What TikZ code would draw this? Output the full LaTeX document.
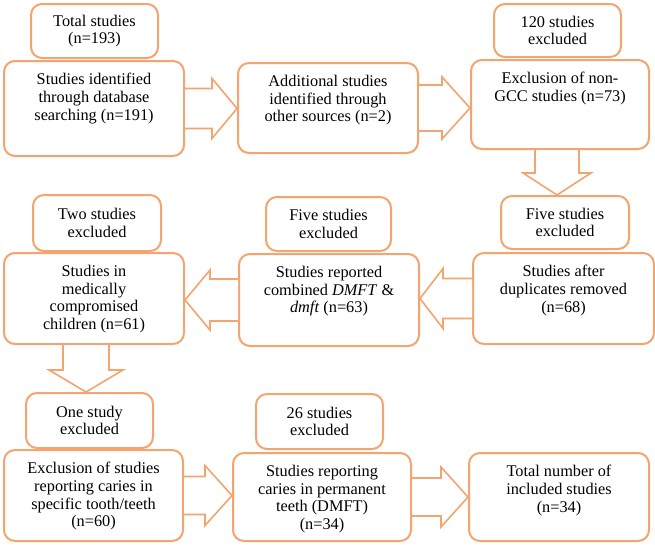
\documentclass[tikz,border=0pt]{standalone}
\usepackage{fontspec}
\setmainfont{Liberation Serif}
\usetikzlibrary{calc}
\definecolor{bord}{RGB}{244,164,110}
\tikzset{
  box/.style={draw=bord, line width=2pt, rounded corners=11pt, fill=white},
  blk/.style={draw=bord, line width=1.6pt, fill=white, line join=miter},
  txt/.style={inner sep=0pt, align=center, font=\fontsize{16.3}{17.7}\selectfont}
}
% box: name, x1, y1, x2, y2
\newcommand{\mybox}[5]{\node[box, minimum width=#4-#2, minimum height=#5-#3, anchor=north west, inner sep=0pt] (#1) at (#2,#3) {};}
% right block arrow: source, target, shaft half, head half, head length
\newcommand{\rblock}[5]{\draw[blk] let \p1=(#1.east), \p2=(#2.west) in
  (\x1,\y1+#3) -- (\x2-#5,\y1+#3) -- (\x2-#5,\y1+#4) -- (\x2,\y1) -- (\x2-#5,\y1-#4) -- (\x2-#5,\y1-#3) -- (\x1,\y1-#3);}
\newcommand{\lblock}[5]{\draw[blk] let \p1=(#1.west), \p2=(#2.east) in
  (\x1,\y1+#3) -- (\x2+#5,\y1+#3) -- (\x2+#5,\y1+#4) -- (\x2,\y1) -- (\x2+#5,\y1-#4) -- (\x2+#5,\y1-#3) -- (\x1,\y1-#3);}
% down block arrow: source, target, shaft half, head half, head length, x offset
\newcommand{\dblock}[6]{\draw[blk] let \p1=(#1.south), \p2=(#2.north) in
  (\x1+#6-#3,\y1) -- (\x1+#6-#3,\y2+#5) -- (\x1+#6-#4,\y2+#5) -- (\x1+#6,\y2) -- (\x1+#6+#4,\y2+#5) -- (\x1+#6+#3,\y2+#5) -- (\x1+#6+#3,\y1);}
\begin{document}
\begin{tikzpicture}[x=1pt,y=-1pt]
\useasboundingbox (0,0) rectangle (655,544);
% boxes
\mybox{tot}{30}{3}{157}{57}
\mybox{db}{3}{60}{183}{155}
\mybox{add}{237}{62}{417}{152}
\mybox{exa}{493}{3}{620}{56}
\mybox{gcc}{470}{59}{648}{148}
\mybox{fivea}{500}{195}{628}{248}
\mybox{dup}{472}{252}{653}{343}
\mybox{fiveb}{265}{196}{390}{250}
\mybox{comb}{238}{253}{418}{345}
\mybox{two}{32}{194}{160}{250}
\mybox{med}{3}{252}{183}{343}
\mybox{one}{25}{392}{152}{447}
\mybox{excl}{3}{449}{182}{540}
\mybox{six}{255}{393}{382}{448}
\mybox{perm}{232}{452}{410}{540}
\mybox{tot2}{468}{452}{648}{540}
% texts
\node[txt] (ttot) at (tot) {Total studies\\(n=193)};
\node[txt] (texa) at (exa) {120 studies\\excluded};
\node[txt] (tfivea) at (fivea) {Five studies\\excluded};
\node[txt] (tfiveb) at (fiveb) {Five studies\\excluded};
\node[txt] (ttwo) at (two) {Two studies\\excluded};
\node[txt] (tone) at (one) {One study\\excluded};
\node[txt] (tsix) at (six) {26 studies\\excluded};
\node[txt, anchor=north] (tdb) at ([yshift=-13pt]db.north) {Studies identified\\through database\\searching (n=191)};
\node[txt, anchor=north] (tadd) at ([yshift=-13pt]add.north) {Additional studies\\identified through\\other sources (n=2)};
\node[txt, anchor=north] (tgcc) at ([yshift=-13pt]gcc.north) {Exclusion of non-\\GCC studies (n=73)};
\node[txt, anchor=north] (tdup) at ([yshift=-13pt]dup.north) {Studies after\\duplicates removed\\(n=68)};
\node[txt, anchor=north] (tcomb) at ([yshift=-13pt]comb.north) {Studies reported\\combined \textit{DMFT} \&\\\textit{dmft} (n=63)};
\node[txt, anchor=north] (tmed) at ([yshift=-13pt]med.north) {Studies in\\medically\\compromised\\children (n=61)};
\node[txt, anchor=north] (texcl) at ([yshift=-13pt]excl.north) {Exclusion of studies\\reporting caries in\\specific tooth/teeth\\(n=60)};
\node[txt, anchor=north] (tperm) at ([yshift=-13pt]perm.north) {Studies reporting\\caries in permanent\\teeth (DMFT)\\(n=34)};
\node[txt, anchor=north] (ttot2) at ([yshift=-13pt]tot2.north) {Total number of\\included studies\\(n=34)};
% block arrows
\rblock{db}{add}{20pt}{30pt}{25pt}
\rblock{add}{gcc}{23pt}{31pt}{28pt}
\dblock{gcc}{fivea}{22pt}{34pt}{22pt}{-3pt}
\lblock{dup}{comb}{20pt}{30pt}{23pt}
\lblock{comb}{med}{21pt}{30pt}{25pt}
\dblock{med}{one}{23pt}{37pt}{22pt}{-8pt}
\rblock{excl}{perm}{19pt}{30pt}{27pt}
\rblock{perm}{tot2}{19pt}{30pt}{27pt}
\end{tikzpicture}
\end{document}
